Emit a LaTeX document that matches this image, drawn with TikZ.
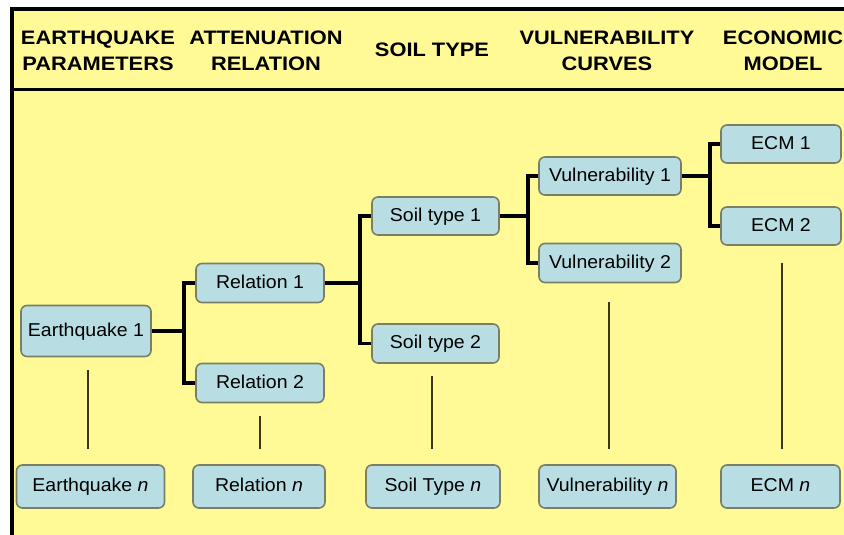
\documentclass[tikz,border=0pt]{standalone}
\usepackage{fontspec}
\setmainfont{Liberation Sans}
\newfontfamily\headfont[FakeStretch=1.12]{Liberation Sans}
\newfontfamily\boxfont[FakeStretch=1.05]{Liberation Sans}
\definecolor{sheet}{RGB}{255,250,150}
\definecolor{boxfill}{RGB}{184,222,228}
\definecolor{boxline}{RGB}{122,126,100}
\definecolor{gapline}{RGB}{60,52,30}
\begin{document}
\begin{tikzpicture}[x=1pt, y=-1pt,
    head/.style={align=center, font=\headfont\bfseries\fontsize{19.5}{26}\selectfont},
    item/.style={draw=boxline, fill=boxfill, rounded corners=6pt, line width=1.6pt,
        inner sep=0pt, minimum height=39pt, text height=13.5pt, text depth=3.5pt,
        font=\boxfont\fontsize{18.6}{22}\selectfont},
    tree/.style={line width=3.2pt},
    gap/.style={line width=2pt, draw=gapline}]
        \useasboundingbox (0,0) rectangle (844,535);
        
        % Draw the sheet and its frame
        \fill[white] (0,0) rectangle (844,535);
        \fill[sheet] (12,9) rectangle (844,535);
        \draw[line width=4pt] (12,535) -- (12,9) -- (844,9);
        \draw[line width=2.2pt] (12,89.5) -- (844,89.5);
        
        % Add column headings
        \node[head] (hq) at (98,51) {EARTHQUAKE\\PARAMETERS};
        \node[head] (hr) at (266,51) {ATTENUATION\\RELATION};
        \node[head] (hs) at (432,50) {SOIL TYPE};
        \node[head] (hv) at (607,51) {VULNERABILITY\\CURVES};
        \node[head] (he) at (783,51) {ECONOMIC\\MODEL};
        
        % Add the first boxes of each column
        \node[item, minimum width=130pt, minimum height=51pt] (eq1) at (86,331) {Earthquake 1};
        \node[item, minimum width=128pt] (rel1) at (260,283) {Relation 1};
        \node[item, minimum width=128pt] (rel2) at (260,383) {Relation 2};
        \node[item, minimum width=127pt, minimum height=38pt] (soil1) at (435.5,216) {Soil type 1};
        \node[item, minimum width=127pt] (soil2) at (435.5,343.5) {Soil type 2};
        \node[item, minimum width=142pt, minimum height=38pt] (vul1) at (610,176) {Vulnerability 1};
        \node[item, minimum width=142pt] (vul2) at (610,263) {Vulnerability 2};
        \node[item, minimum width=120pt, minimum height=38pt] (ecm1) at (781,144) {ECM 1};
        \node[item, minimum width=120pt, minimum height=38pt] (ecm2) at (781,226) {ECM 2};
        
        % Add the last boxes
        \node[item, minimum width=148pt, minimum height=43pt] (eqn) at (90.5,486.5) {Earthquake \textit{n}};
        \node[item, minimum width=132pt, minimum height=43pt] (reln) at (259,486.5) {Relation \textit{n}};
        \node[item, minimum width=134pt, minimum height=43pt] (soiln) at (433,486.5) {Soil Type \textit{n}};
        \node[item, minimum width=137pt, minimum height=43pt] (vuln) at (607.5,486.5) {Vulnerability \textit{n}};
        \node[item, minimum width=119pt, minimum height=43pt] (ecmn) at (780.5,486.5) {ECM \textit{n}};
        
        % Draw the branches
        \coordinate (j1) at (184,331);
        \coordinate (j2) at (360,283);
        \coordinate (j3) at (528,216);
        \coordinate (j4) at (710,176);
        \draw[tree] (eq1.east) -- (j1) |- (rel1.west);
        \draw[tree] (j1) |- (rel2.west);
        \draw[tree] (rel1.east) -- (j2) |- (soil1.west);
        \draw[tree] (j2) |- (soil2.west);
        \draw[tree] (soil1.east) -- (j3) |- (vul1.west);
        \draw[tree] (j3) |- (vul2.west);
        \draw[tree] (vul1.east) -- (j4) |- (ecm1.west);
        \draw[tree] (j4) |- (ecm2.west);
        
        % Draw the gaps down to n
        \draw[gap, shorten <=13pt, shorten >=15pt] ([xshift=2pt]eq1.south) -- ([xshift=2pt]eq1.south |- eqn.north);
        \draw[gap, shorten <=13pt, shorten >=15pt] (rel2.south) -- (rel2.south |- reln.north);
        \draw[gap, shorten <=12pt, shorten >=15pt] ([xshift=-4pt]soil2.south) -- ([xshift=-4pt]soil2.south |- soiln.north);
        \draw[gap, shorten <=19pt, shorten >=15pt] ([xshift=-1.5pt]vul2.south) -- ([xshift=-1.5pt]vul2.south |- vuln.north);
        \draw[gap, shorten <=17pt, shorten >=15pt] ([xshift=1pt]ecm2.south) -- ([xshift=1pt]ecm2.south |- ecmn.north);
        
    \end{tikzpicture}
\end{document}
